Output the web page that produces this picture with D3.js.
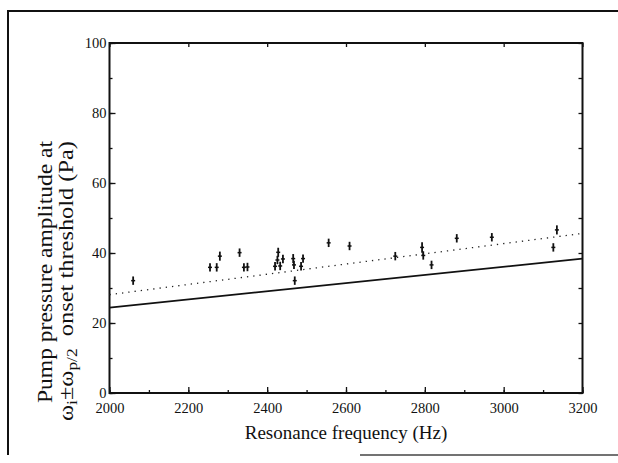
<!DOCTYPE html>
<html>
<head>
<meta charset="utf-8">
<script src="https://cdn.jsdelivr.net/npm/d3@7"></script>
<style>
  body { margin: 0; background: #fff; }
  svg text { font-family: "Liberation Serif", "DejaVu Serif", serif; fill: #111; }
</style>
</head>
<body>
<div id="chart"></div>
<script>
const freqHz = [2060, 2255, 2272, 2280, 2330, 2341, 2350, 2420, 2426, 2428, 2433, 2440, 2466, 2468, 2470,
                2486, 2491, 2556, 2609, 2725, 2793, 2796, 2817, 2881, 2970, 3126, 3135];
const ampPa  = [32.1, 35.9, 35.9, 39.1, 40.1, 35.9, 36.0, 36.2, 38.0, 40.2, 36.3, 38.3, 38.4, 36.6, 32.1,
                36.2, 38.4, 42.9, 42.0, 39.1, 41.6, 39.3, 36.6, 44.2, 44.5, 41.6, 46.6];
const errPa  = [1.2, 1.2, 1.2, 1.3, 1.2, 1.2, 1.2, 1.2, 1.2, 1.3, 1.2, 1.2, 1.3, 1.2, 1.2,
                1.2, 1.2, 1.2, 1.2, 1.2, 1.5, 1.2, 1.2, 1.2, 1.2, 1.2, 1.3];

// Theory (solid) and fit (dotted) lines
const lineFreq = [2000, 3200];
const theoryPa = [24.4, 38.4];
const fitPa    = [28.1, 45.6];

const xTicks = [2000, 2200, 2400, 2600, 2800, 3000, 3200];
const yTicks = [0, 20, 40, 60, 80, 100];

const W = 618, H = 463;
const margin = { top: 43, right: 35.5, bottom: 70, left: 109.5 },
      width = W - margin.left - margin.right,
      height = H - margin.top - margin.bottom;

const root = d3.select("#chart").append("svg")
    .attr("width", W)
    .attr("height", H);

// outer frame of the scanned figure
root.append("path")
    .attr("d", "M8,455 L8,11 L618,11")
    .attr("fill", "none")
    .attr("stroke", "#111")
    .attr("stroke-width", 2);
root.append("line")
    .attr("x1", 360).attr("x2", 618)
    .attr("y1", 455).attr("y2", 455)
    .attr("stroke", "#444")
    .attr("stroke-width", 1.5);

const svg = root.append("g")
    .attr("transform", `translate(${margin.left},${margin.top})`);

const x = d3.scaleLinear().domain([2000, 3200]).range([0, width]);
const y = d3.scaleLinear().domain([0, 100]).range([height, 0]);

// Axes with inward ticks
const minorX = d3.range(2000, 3201, 100);
const minorY = d3.range(0, 101, 10);

const serif = g => g.attr("font-family", null).selectAll("text")
    .style("font-family", "'Liberation Serif', serif")
    .style("font-size", "14.5px");

svg.append("g")
    .attr("transform", `translate(0,${height})`)
    .call(d3.axisBottom(x).tickValues(minorX).tickSize(-3).tickFormat(""))
    .call(g => g.select(".domain").remove());
svg.append("g")
    .attr("transform", `translate(0,${height})`)
    .call(d3.axisBottom(x).tickValues(xTicks).tickSize(-6).tickPadding(10).tickFormat(d3.format("d")))
    .call(g => g.select(".domain").remove())
    .call(serif);

svg.append("g")
    .call(d3.axisLeft(y).tickValues(minorY).tickSize(-3).tickFormat(""))
    .call(g => g.select(".domain").remove());
svg.append("g")
    .call(d3.axisLeft(y).tickValues(yTicks).tickSize(-6).tickPadding(3).tickFormat(d3.format("d")))
    .call(g => g.select(".domain").remove())
    .call(serif);

svg.append("g")
    .attr("transform", `translate(${width},0)`)
    .call(d3.axisRight(y).tickValues(minorY).tickSize(-4).tickFormat(""))
    .call(g => g.select(".domain").remove());
svg.append("g")
    .call(d3.axisTop(x).tickValues(xTicks).tickSize(-4).tickFormat(""))
    .call(g => g.select(".domain").remove());

svg.selectAll(".tick line").attr("stroke", "#111").attr("stroke-width", 1.3);

// plot box
svg.append("rect")
    .attr("width", width)
    .attr("height", height)
    .attr("fill", "none")
    .attr("stroke", "#111")
    .attr("stroke-width", 2);

// X label
svg.append("text")
    .attr("text-anchor", "middle")
    .attr("x", width / 2)
    .attr("y", height + 46)
    .style("font-size", "19px")
    .text("Resonance frequency (Hz)");

// Y label, two lines
svg.append("text")
    .attr("text-anchor", "middle")
    .attr("transform", `translate(-58,${height / 2 + 54}) rotate(-90)`)
    .attr("textLength", 262)
    .attr("lengthAdjust", "spacingAndGlyphs")
    .style("font-size", "21px")
    .text("Pump pressure amplitude at");

const l2 = svg.append("text")
    .attr("text-anchor", "middle")
    .attr("transform", `translate(-37,${height / 2 + 63}) rotate(-90)`)
    .attr("textLength", 280)
    .attr("lengthAdjust", "spacingAndGlyphs")
    .style("font-size", "21px");
l2.append("tspan").text("ω");
l2.append("tspan").attr("baseline-shift", "-25%").style("font-size", "15px").text("i");
l2.append("tspan").text("±ω");
l2.append("tspan").attr("baseline-shift", "-25%").style("font-size", "15px").text("p/2");
l2.append("tspan").text("\u00a0\u00a0onset threshold (Pa)");

// Lines
const lineGen = d3.line()
    .x(d => x(d[0]))
    .y(d => y(d[1]));

svg.append("path")
    .datum(d3.zip(lineFreq, theoryPa))
    .attr("fill", "none")
    .attr("stroke", "#111")
    .attr("stroke-width", 1.8)
    .attr("d", lineGen);

svg.append("path")
    .datum(d3.zip(lineFreq, fitPa))
    .attr("fill", "none")
    .attr("stroke", "#222")
    .attr("stroke-width", 1.3)
    .attr("stroke-dasharray", "1.3,5")
    .attr("d", lineGen);

// Data points with error bars
const pts = freqHz.map((f, i) => ({ f: f, a: ampPa[i], e: errPa[i] }));

const marks = svg.selectAll("g.pt")
    .data(pts)
    .join("g")
    .attr("class", "pt");

marks.append("line")
    .attr("x1", d => x(d.f)).attr("x2", d => x(d.f))
    .attr("y1", d => y(d.a - d.e)).attr("y2", d => y(d.a + d.e))
    .attr("stroke", "#111")
    .attr("stroke-width", 1.8);

marks.append("line")
    .attr("x1", d => x(d.f) - 2).attr("x2", d => x(d.f) + 2)
    .attr("y1", d => y(d.a)).attr("y2", d => y(d.a))
    .attr("stroke", "#111")
    .attr("stroke-width", 1.5);
</script>
</body>
</html>
